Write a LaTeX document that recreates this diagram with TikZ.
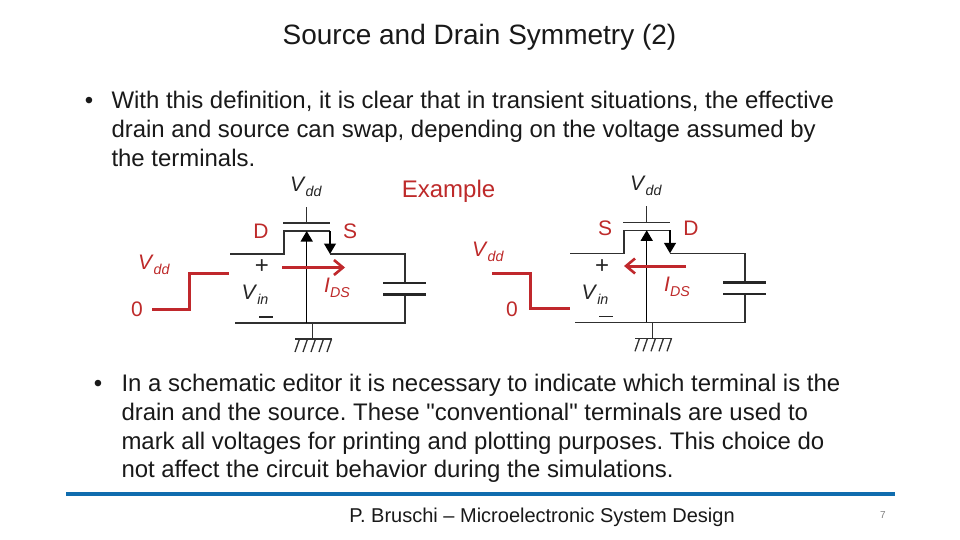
\documentclass[tikz,border=0pt]{standalone}
\usepackage{fontspec}
\setmainfont[Ligatures=TeXOff]{Liberation Sans}
\usetikzlibrary{arrows.meta,calc}
\definecolor{slidered}{HTML}{BE2A2A}
\definecolor{wirered}{HTML}{C0282C}
\definecolor{wiregrey}{HTML}{303030}
\definecolor{ruleblue}{HTML}{0F6CAE}
\newcommand{\sym}[2]{\textit{#1}\raisebox{-0.24em}{\scalebox{0.68}{\textit{#2}}}}
\frenchspacing
\begin{document}
\begin{tikzpicture}[
    x=1pt, y=-1pt,
    line width=1pt,
    body/.style={font=\fontsize{23.95}{28.7}\selectfont, text=black!90, align=left, anchor=north west, inner sep=0pt},
    bullet/.style={font=\fontsize{24}{29}\selectfont, text=black!90, inner sep=0pt},
    redlabel/.style={font=\fontsize{21}{24}\selectfont, text=slidered, inner sep=0pt},
    blacklabel/.style={font=\fontsize{21}{24}\selectfont, text=black!85, inner sep=0pt},
    wire/.style={draw=wiregrey, line width=1.3pt},
    redstep/.style={draw=wirered, line width=3pt, line join=miter},
    redarrow/.style={draw=wirered, line width=3pt, -{Straight Barb[length=9pt,width=15pt,line width=2.6pt]}},
    fet/.style={draw=black, line width=1.3pt, -{Triangle[length=10.5pt,width=12pt,fill=black]}},
    plate/.style={draw=black!85, line width=2.6pt}
    ]
	\useasboundingbox (0,0) rectangle (960,540);
	\fill[white] (0,0) rectangle (960,540);
	% title and text
	\node [font=\fontsize{28}{32}\selectfont, text=black!90, inner sep=0pt] (title) at (479.5,37) {Source and Drain Symmetry (2)};
	\node [bullet] (dot1) at (89,103) {•};
	\node [body] (par1) at (111,91) {With this definition, it is clear that in transient situations, the effective\\drain and source can swap, depending on the voltage assumed by\\the terminals.};
	\node [font=\fontsize{24}{29}\selectfont, text=slidered, inner sep=0pt] (example) at (448.5,191) {Example};
	\node [bullet] (dot2) at (98,386) {•};
	\node [body] (par2) at (121,374) {In a schematic editor it is necessary to indicate which terminal is the\\drain and the source. These "conventional" terminals are used to\\mark all voltages for printing and plotting purposes. This choice do\\not affect the circuit behavior during the simulations.};
	% the two stages
	\foreach \c/\dx/\dy in {l/0/0, r/340/-0.7} {
		\begin{scope}[shift={(\dx,\dy)}]
			\coordinate (\c top) at (306.7,207);
			\coordinate (\c gate) at (306.7,223);
			\coordinate (\c gl) at (283,223);
			\coordinate (\c gr) at (330,223);
			\coordinate (\c cl) at (284,231);
			\coordinate (\c cr) at (330,231);
			\coordinate (\c dl) at (284,254);
			\coordinate (\c dr) at (330,254);
			\coordinate (\c in) at (230,254);
			\coordinate (\c corner) at (405,254);
			\coordinate (\c capa) at (405,283);
			\coordinate (\c capb) at (405,294.5);
			\coordinate (\c base) at (405,323);
			\coordinate (\c gnd) at (235,323);
			\coordinate (\c mid) at (306.7,323);
			\coordinate (\c bulk) at (306.7,231);
			\coordinate (\c earth) at (312.7,323);
			\coordinate (\c earthb) at (312.7,339);
			\coordinate (\c ea) at (295,339);
			\coordinate (\c eb) at (332,339);
			\draw [wire] (\c top) -- (\c gate);
			\draw [wire] (\c gl) -- (\c gr);
			\draw [wire] (\c in) -- (\c dl) -- (\c cl) -- (\c cr);
			\draw [fet] (\c cr) -- (\c dr);
			\draw [wire] (\c dr) -- (\c corner) -- (\c capa);
			\draw [wire] (\c capb) -- (\c base) -- (\c gnd);
			\draw [fet] (\c mid) -- (\c bulk);
			\draw [wire] (\c earth) -- (\c earthb);
			\draw [wire] (\c ea) -- (\c eb);
			\foreach \k in {0,1,2,3,4} {
				\draw [wire] ($(\c ea)+(4.5+\k*8,0)$) -- ++(-4.5,13);
			}
			\draw [plate] ($(\c capa)+(-22,0)$) -- ($(\c capa)+(21,0)$);
			\draw [plate] ($(\c capb)+(-22,0)$) -- ($(\c capb)+(21,0)$);
			\node [blacklabel] (\c vdd) at (306,187) {\sym{V}{dd}};
			\node [blacklabel] (\c vin) at (255,295) {\sym{V}{in}};
			\node [blacklabel, font=\fontsize{24}{24}\selectfont] (\c plus) at (262,267) {+};
			\node [blacklabel] (\c minus) at (266,317) {\rule{14pt}{1.3pt}};
			\node [redlabel] (\c ids) at (337,288) {\sym{I}{DS}};
		\end{scope}
	}
	% red parts of the left stage
	\node [redlabel] (ld) at (261,231) {D};
	\node [redlabel] (ls) at (350,231) {S};
	\node [redlabel] (lv) at (154,265) {\sym{V}{dd}};
	\node [redlabel] (lz) at (137,309) {0};
	\coordinate (lstart) at (152,309);
	\coordinate (lup) at (189,309);
	\coordinate (lhigh) at (189,273.7);
	\coordinate (lend) at (229,273.7);
	\draw [redstep] (lstart) -- (lup) -- (lhigh) -- (lend);
	\coordinate (lfrom) at (282,267.5);
	\coordinate (lto) at (345,267.5);
	\draw [redarrow] (lfrom) -- (lto);
	% red parts of the right stage
	\node [redlabel] (rs) at (605,228) {S};
	\node [redlabel] (rd) at (691,228) {D};
	\node [redlabel] (rv) at (488,252) {\sym{V}{dd}};
	\node [redlabel] (rz) at (512,309) {0};
	\coordinate (rstart) at (492,273);
	\coordinate (rdown) at (530,273);
	\coordinate (rlow) at (530,308.7);
	\coordinate (rend) at (570,308.7);
	\draw [redstep] (rstart) -- (rdown) -- (rlow) -- (rend);
	\coordinate (rfrom) at (686,266);
	\coordinate (rto) at (624,266);
	\draw [redarrow] (rfrom) -- (rto);
	% footer
	\coordinate (rulea) at (66,494);
	\coordinate (ruleb) at (895,494);
	\draw [draw=ruleblue, line width=3.6pt] (rulea) -- (ruleb);
	\node [font=\fontsize{20}{24}\selectfont, text=black!90, inner sep=0pt] (footer) at (542,517) {P. Bruschi – Microelectronic System Design};
	\node [font=\fontsize{10}{12}\selectfont, text=black!50, inner sep=0pt] (pagenum) at (883,515) {7};
\end{tikzpicture}
\end{document}
